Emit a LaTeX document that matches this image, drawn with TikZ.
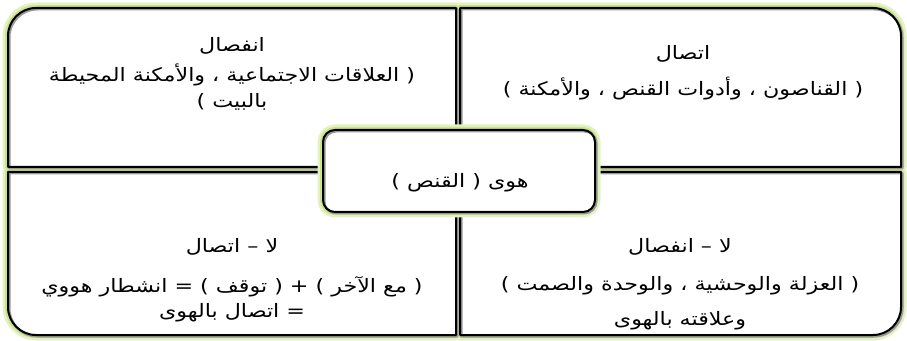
\documentclass[tikz,border=0pt]{standalone}
\usepackage{fontspec}
\newfontfamily\arabicfont[Script=Arabic,FakeStretch=1.2]{DejaVu Sans}
\TeXXeTstate=1
\usetikzlibrary{positioning}
\definecolor{glow}{RGB}{190,220,110}
\tikzset{
  glowwide/.style={draw=glow!40, line width=11pt, line join=round},
  glowmid/.style={draw=glow!80, line width=6pt, line join=round},
  boxfill/.style={fill=white},
  shadowline/.style={draw=black!40, line width=2.4pt, line join=round, transform canvas={shift={(1.3pt,-1.3pt)}}},
  boxline/.style={draw=black, line width=2pt, line join=round},
  ar/.style={font=\arabicfont\fontsize{18.5}{22}\selectfont, inner sep=0pt, anchor=base},
}

\begin{document}
\begin{tikzpicture}[x=1pt,y=1pt]
  \useasboundingbox (0,0) rectangle (907,340);
  % four quadrants: glow, fill, shadow, outline
  \foreach \layer in {glowwide,glowmid,boxfill,shadowline,boxline} {
    \path[\layer] (456,173) -- (8,173) -- (8,304) arc[start angle=180,end angle=90,radius=28pt] -- (456,332) -- cycle;
    \path[\layer] (460,173) -- (460,332) -- (873,332) arc[start angle=90,end angle=0,radius=28pt] -- (901,173) -- cycle;
    \path[\layer] (456,168) -- (8,168) -- (8,33) arc[start angle=180,end angle=270,radius=28pt] -- (456,5) -- cycle;
    \path[\layer] (460,168) -- (460,5) -- (873,5) arc[start angle=270,end angle=360,radius=28pt] -- (901,168) -- cycle;
  }
  % center box
  \foreach \layer in {glowwide,glowmid,boxfill,shadowline,boxline} {
    \path[\layer, rounded corners=12pt] (323,128) rectangle (595,210);
  }
  % top left
  \node[ar] (tlA) at (232,288) {\beginR انفصال\endR};
  \node[ar] (tlB) at (232,258) {\beginR ( العلاقات الاجتماعية ، والأمكنة المحيطة\endR};
  \node[ar] (tlC) at (232,232) {\beginR بالبيت )\endR};
  % top right
  \node[ar] (trA) at (683,280) {\beginR اتصال\endR};
  \node[ar] (trB) at (683,244) {\beginR ( القناصون ، وأدوات القنص ، والأمكنة )\endR};
  % center
  \node[ar] (hub) at (460,152) {\beginR هوى ( القنص )\endR};
  % bottom left
  \node[ar] (blA) at (232,87) {\beginR لا – اتصال\endR};
  \node[ar] (blB) at (232,48) {\beginR ( مع الآخر ) + ( توقف ) = انشطار هووي\endR};
  \node[ar] (blC) at (232,23) {\beginR = اتصال بالهوى\endR};
  % bottom right
  \node[ar] (brA) at (680,87) {\beginR لا – انفصال\endR};
  \node[ar] (brB) at (680,49) {\beginR ( العزلة والوحشية ، والوحدة والصمت )\endR};
  \node[ar] (brC) at (680,15) {\beginR وعلاقته بالهوى\endR};
\end{tikzpicture}
\end{document}
